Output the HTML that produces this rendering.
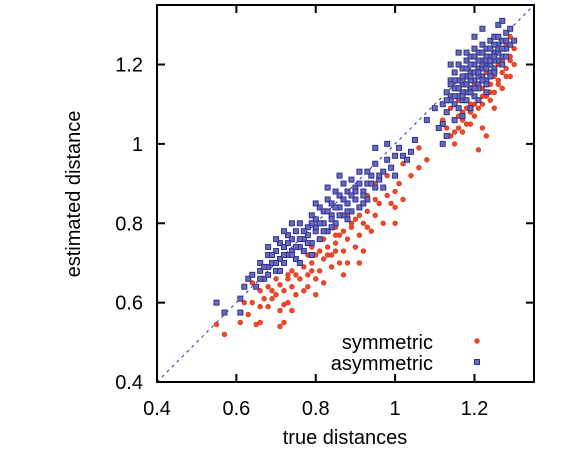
<!DOCTYPE html>
<html><head><meta charset="utf-8"><style>
body{margin:0;background:#fff}
svg{display:block;font-family:"Liberation Sans",sans-serif}
</style></head><body>
<svg id="chart" width="579" height="453" viewBox="0 0 579 453">
<g id="marks"></g>
<rect x="157" y="5" width="377" height="377" fill="none" stroke="#000" stroke-width="2"/>
<g id="ticks"></g>
<text x="345" y="444" font-size="20" text-anchor="middle">true distances</text>
<text transform="translate(80,194) rotate(-90)" font-size="20" text-anchor="middle">estimated distance</text>
<g>
<text x="433" y="349" font-size="20" text-anchor="end">symmetric</text>
<circle cx="477" cy="341" r="2.2" fill="#f04a2c" stroke="#e03a1e" stroke-width="1"/>
<text x="433" y="370" font-size="20" text-anchor="end">asymmetric</text>
<rect x="474.5" y="359.5" width="5" height="5" fill="#6a6cb8" stroke="#2e3192" stroke-width="1"/>
</g>
</svg>
<script>
const xTicks=[0.4,0.6,0.8,1,1.2];
const yTicks=[0.4,0.6,0.8,1,1.2];
const xTickLabels=["0.4","0.6","0.8","1","1.2"];
const yTickLabels=["0.4","0.6","0.8","1","1.2"];
const symX=[0.57,0.55,0.61,0.62,0.63,0.64,0.65,0.66,0.66,0.68,0.69,0.71,0.71,0.72,0.72,0.73,0.74,0.70,0.72,0.74,0.75,0.76,0.77,0.78,0.78,0.79,0.80,0.80,0.81,0.82,0.82,0.83,0.84,0.84,0.85,0.86,0.86,0.87,0.88,0.88,0.89,0.90,0.90,0.91,0.92,0.92,0.93,0.94,0.95,0.96,0.97,0.98,1.0,1.0,1.01,1.02,1.04,1.06,1.08,0.76,0.78,0.82,0.85,0.88,0.93,0.95,0.98,1.0,0.74,0.70,0.68,0.66,0.64,0.80,0.87,0.91,1.02,1.06,
1.13,1.14,1.15,1.16,1.17,1.18,1.19,1.20,1.20,1.21,1.22,1.22,1.23,1.24,1.24,1.25,1.25,1.26,1.26,1.27,1.27,1.28,1.28,1.29,1.29,1.30,1.23,1.22,1.12,1.14,1.16,1.18,1.20,1.21,1.23,1.24,1.26,1.17,1.19,1.25,1.28,1.29,1.21,1.15,
1.16,1.18,1.20,1.22,1.24,1.26,1.28,1.19,1.21,1.23,1.25,1.27,1.17,1.15,1.29,1.30,
0.69,0.71,0.73,0.75,0.77,0.79,0.81,0.83,0.85,0.87,0.89,0.91,0.93,0.95,0.97,0.99,0.67,0.73,0.79,0.85];
const symY=[0.52,0.545,0.55,0.60,0.57,0.60,0.545,0.59,0.55,0.59,0.61,0.54,0.58,0.595,0.55,0.60,0.58,0.62,0.63,0.64,0.62,0.66,0.63,0.67,0.64,0.70,0.66,0.72,0.68,0.71,0.65,0.74,0.69,0.72,0.75,0.70,0.77,0.73,0.76,0.70,0.79,0.74,0.81,0.77,0.80,0.73,0.83,0.78,0.82,0.85,0.80,0.87,0.84,0.88,0.90,0.86,0.92,0.94,0.96,0.70,0.72,0.76,0.79,0.82,0.87,0.90,0.92,0.80,0.68,0.66,0.64,0.63,0.65,0.62,0.67,0.70,0.95,0.99,
1.04,1.02,1.06,1.04,1.08,1.05,1.10,1.07,1.12,1.09,1.14,1.10,1.12,1.15,1.11,1.17,1.13,1.16,1.20,1.18,1.14,1.19,1.22,1.21,1.17,1.24,1.02,1.04,1.06,1.09,1.11,1.13,1.15,1.17,1.18,1.20,1.23,1.03,1.05,1.09,1.25,1.27,0.985,1.00,
1.07,1.09,1.10,1.12,1.13,1.15,1.17,1.08,1.11,1.16,1.19,1.21,1.06,1.03,1.22,1.20,
0.63,0.645,0.66,0.67,0.69,0.68,0.73,0.72,0.77,0.78,0.80,0.82,0.79,0.86,0.89,0.85,0.61,0.67,0.74,0.73];
const asymX=[0.55,0.57,0.61,0.61,0.62,0.63,0.64,0.65,0.66,0.66,0.67,0.68,0.68,0.69,0.70,0.70,0.71,0.71,0.72,0.72,0.73,0.73,0.74,0.74,0.75,0.75,0.76,0.76,0.77,0.77,0.78,0.78,0.79,0.79,0.80,0.80,0.81,0.81,0.82,0.82,0.83,0.83,0.84,0.84,0.85,0.85,0.86,0.86,0.87,0.87,0.88,0.88,0.89,0.89,0.90,0.90,0.91,0.91,0.92,0.93,0.93,0.94,0.95,0.95,0.96,0.97,0.98,0.99,1.0,1.01,1.02,1.03,1.04,1.05,1.08,1.10,0.76,0.79,0.84,0.88,0.92,0.72,0.74,0.70,0.68,0.83,0.86,0.80,0.95,0.98,0.97,1.0,
1.12,1.12,1.13,1.13,1.14,1.14,1.15,1.15,1.15,1.16,1.16,1.16,1.17,1.17,1.17,1.18,1.18,1.18,1.19,1.19,1.19,1.20,1.20,1.20,1.20,1.21,1.21,1.21,1.22,1.22,1.22,1.23,1.23,1.23,1.24,1.24,1.24,1.25,1.25,1.25,1.26,1.26,1.27,1.27,1.28,1.28,1.29,1.29,1.30,1.15,1.17,1.19,1.21,1.23,1.13,1.12,1.11,1.18,1.16,1.14,1.20,1.22,1.26,1.27,1.19,1.21,1.22,1.24,1.25,1.18,1.17,1.20,1.23,1.26,1.28,
1.14,1.15,1.16,1.17,1.18,1.19,1.20,1.21,1.22,1.23,1.24,1.25,1.26,1.27,1.15,1.16,1.17,1.18,1.19,1.20,1.21,1.22,1.23,1.24,1.25,1.26,1.17,1.19,1.21,1.23,1.25,1.27,1.18,1.20,1.22,1.24,1.16,1.14,1.13,1.28,
0.66,0.68,0.70,0.72,0.74,0.76,0.78,0.80,0.82,0.84,0.86,0.88,0.90,0.92,0.94,0.67,0.69,0.71,0.73,0.75,0.77,0.79,0.81,0.83,0.85,0.87,0.89,0.91,0.93,0.96];
const asymY=[0.60,0.575,0.61,0.575,0.64,0.66,0.67,0.64,0.68,0.70,0.66,0.69,0.72,0.70,0.68,0.73,0.71,0.75,0.70,0.74,0.72,0.77,0.73,0.76,0.71,0.78,0.74,0.80,0.76,0.73,0.79,0.77,0.75,0.82,0.78,0.81,0.76,0.84,0.80,0.83,0.78,0.86,0.82,0.85,0.80,0.88,0.84,0.87,0.82,0.90,0.85,0.88,0.83,0.91,0.86,0.89,0.84,0.93,0.88,0.90,0.86,0.92,0.89,0.95,0.91,0.93,0.96,0.94,0.97,0.99,0.97,0.96,0.98,1.01,1.06,1.09,0.70,0.72,0.79,0.81,0.85,0.78,0.80,0.76,0.74,0.89,0.92,0.85,0.99,1.0,0.89,0.92,
1.05,1.10,1.13,1.08,1.12,1.16,1.10,1.14,1.18,1.12,1.16,1.20,1.11,1.15,1.19,1.13,1.17,1.21,1.14,1.18,1.22,1.12,1.16,1.20,1.24,1.15,1.19,1.23,1.17,1.21,1.25,1.16,1.20,1.24,1.18,1.22,1.26,1.19,1.23,1.27,1.21,1.25,1.22,1.26,1.24,1.28,1.25,1.29,1.26,1.06,1.07,1.09,1.11,1.13,1.02,1.00,1.04,1.23,1.23,1.20,1.27,1.29,1.30,1.31,1.16,1.17,1.19,1.20,1.21,1.15,1.13,1.18,1.22,1.23,1.26,
1.11,1.12,1.14,1.16,1.15,1.17,1.18,1.18,1.20,1.21,1.21,1.22,1.24,1.24,1.16,1.09,1.17,1.19,1.20,1.22,1.21,1.23,1.19,1.24,1.25,1.27,1.12,1.13,1.14,1.15,1.18,1.20,1.11,1.14,1.16,1.17,1.14,1.15,1.11,1.22,
0.66,0.67,0.70,0.72,0.72,0.76,0.75,0.79,0.78,0.81,0.82,0.83,0.88,0.87,0.90,0.69,0.72,0.68,0.75,0.74,0.78,0.80,0.80,0.83,0.84,0.86,0.87,0.90,0.93,0.92];
const NS='http://www.w3.org/2000/svg';
const X0=157,X1=534,Y0=382,Y1=5,DMIN=0.4,DMAX=1.35;
function sx(v){return X0+(v-DMIN)/(DMAX-DMIN)*(X1-X0);}
function sy(v){return Y0-(v-DMIN)/(DMAX-DMIN)*(Y0-Y1);}
function mk(t,a){const e=document.createElementNS(NS,t);for(const k in a)e.setAttribute(k,a[k]);return e;}
const marks=document.getElementById('marks');
const diag=mk('line',{x1:sx(0.4),y1:sy(0.4),x2:sx(1.35),y2:sy(1.35),stroke:'#2e3192','stroke-width':1,'stroke-dasharray':'3,4'});


marks.appendChild(diag);
for(let i=0;i<symX.length;i++){
 const c=mk('circle',{cx:sx(symX[i]),cy:sy(symY[i]),r:2.2,fill:'#f04a2c',stroke:'#e03a1e','stroke-width':1});
 
 
 marks.appendChild(c);
}
for(let i=0;i<asymX.length;i++){
 const r=mk('rect',{x:sx(asymX[i])-2.5,y:sy(asymY[i])-2.5,width:5,height:5,fill:'#6a6cb8',stroke:'#2e3192','stroke-width':1});
 
 
 marks.appendChild(r);
}
const tg=document.getElementById('ticks');
xTicks.forEach((v,i)=>{
 const x=sx(v);
 tg.appendChild(mk('line',{x1:x,y1:Y0,x2:x,y2:Y0-8,stroke:'#000','stroke-width':2}));
 tg.appendChild(mk('line',{x1:x,y1:Y1,x2:x,y2:Y1+8,stroke:'#000','stroke-width':2}));
 const t=mk('text',{x:x,y:415,'font-size':20,'text-anchor':'middle'});
 t.textContent=xTickLabels[i];
 
 
 tg.appendChild(t);
});
yTicks.forEach((v,i)=>{
 const y=sy(v);
 tg.appendChild(mk('line',{x1:X0,y1:y,x2:X0+8,y2:y,stroke:'#000','stroke-width':2}));
 tg.appendChild(mk('line',{x1:X1,y1:y,x2:X1-8,y2:y,stroke:'#000','stroke-width':2}));
 const t=mk('text',{x:143,y:y+7,'font-size':20,'text-anchor':'end'});
 t.textContent=yTickLabels[i];
 
 
 tg.appendChild(t);
});
</script>
</body></html>
